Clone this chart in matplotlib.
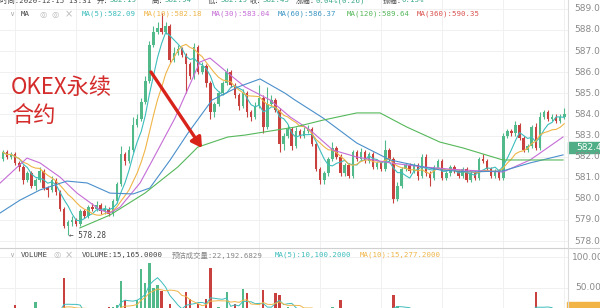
import matplotlib
matplotlib.use('Agg')
import matplotlib.pyplot as plt
import numpy as np
import pandas as pd
from matplotlib.patches import Rectangle, FancyArrowPatch

W, H = 600, 308

# ---------------- data ----------------
first_open = 581.9
close = [582.2, 582.0, 582.1, 581.7, 581.5, 580.9, 581.2, 580.6, 580.9, 581.3,
         580.5, 580.4, 580.9, 580.3, 579.5, 578.7, 578.9, 579.0, 578.8, 579.4,
         579.2, 579.6, 579.5, 579.7, 579.4, 579.5, 579.3, 579.9, 580.7, 582.1,
         581.8, 582.3, 583.5, 583.8, 584.6, 585.6, 587.3, 587.9, 588.1, 587.9,
         588.2, 586.6, 586.9, 587.1, 586.8, 586.4, 585.8, 587.2, 586.0, 586.3,
         585.5, 584.1, 584.5, 585.0, 585.5, 586.0, 585.4, 584.9, 584.4, 585.0,
         584.1, 583.9, 584.4, 584.8, 583.4, 584.5, 584.7, 584.2, 582.6, 583.0,
         583.3, 582.5, 583.2, 583.0, 583.2, 583.3, 582.6, 581.4, 580.9, 581.2,
         581.9, 582.4, 582.0, 581.2, 581.6, 581.1, 582.2, 581.9, 582.2, 581.8,
         582.1, 581.5, 581.7, 581.4, 582.3, 581.9, 580.0, 580.6, 581.4, 581.6,
         581.3, 581.6, 581.1, 582.0, 581.2, 581.0, 581.5, 581.8, 581.0, 581.2,
         581.5, 581.3, 581.1, 581.4, 580.9, 581.2, 581.0, 581.9, 581.8, 581.4,
         581.1, 581.3, 581.0, 583.0, 583.2, 583.1, 583.5, 582.9, 582.3, 582.5,
         583.4, 582.4, 583.9, 584.1, 583.8, 583.9, 583.7, 583.9, 584.0]
high = [582.3, 582.3, 582.2, 582.2, 581.8, 581.6, 581.3, 581.3, 581.0, 581.5,
        581.4, 580.6, 581.1, 581.0, 580.4, 579.6, 579.0, 579.2, 579.1, 579.5,
        579.5, 579.7, 579.8, 579.9, 579.8, 579.7, 579.6, 580.0, 580.8, 582.5,
        582.2, 582.5, 583.9, 584.0, 584.8, 585.8, 587.5, 588.2, 588.4, 588.8,
        588.4, 588.3, 587.2, 587.3, 587.2, 586.9, 586.5, 587.4, 587.3, 586.5,
        586.4, 585.6, 584.6, 585.1, 585.6, 586.2, 586.1, 585.5, 585.0, 585.2,
        585.1, 584.2, 584.6, 585.4, 584.9, 585.3, 584.9, 584.8, 584.3, 583.1,
        583.5, 583.4, 583.4, 583.3, 583.4, 583.5, 583.4, 582.7, 581.5, 581.3,
        582.0, 582.7, 582.5, 582.1, 581.7, 581.7, 582.3, 582.3, 582.4, 582.3,
        582.2, 582.2, 581.8, 581.8, 582.8, 582.4, 582.0, 580.8, 581.5, 581.7,
        581.7, 581.7, 581.7, 582.1, 582.1, 581.3, 581.6, 581.9, 581.9, 581.3,
        581.6, 581.6, 581.4, 581.5, 581.5, 581.3, 581.3, 582.0, 582.1, 581.9,
        581.5, 581.4, 581.4, 583.1, 583.3, 583.3, 583.7, 583.6, 583.0, 582.6,
        583.5, 583.6, 584.1, 584.2, 584.2, 584.0, 584.0, 584.0, 584.3]
low = [581.8, 581.9, 581.9, 581.6, 581.3, 580.7, 580.8, 580.5, 580.4, 580.8,
       580.4, 580.1, 580.3, 580.2, 579.4, 578.6, 578.28, 578.7, 578.7, 578.7,
       579.1, 579.1, 579.4, 579.4, 579.3, 579.3, 579.2, 579.2, 579.8, 580.6,
       581.6, 581.7, 582.2, 583.4, 583.7, 584.5, 585.5, 587.2, 587.8, 587.8,
       587.8, 586.5, 586.5, 586.8, 586.7, 585.0, 585.7, 585.7, 585.9, 585.9,
       585.3, 583.8, 583.9, 584.4, 584.9, 585.4, 585.3, 584.8, 584.2, 584.3,
       583.9, 583.7, 583.8, 584.3, 583.1, 583.3, 584.4, 584.1, 582.2, 582.3,
       582.9, 582.3, 582.4, 582.9, 582.9, 583.1, 582.5, 581.3, 580.7, 580.7,
       581.1, 581.8, 581.9, 581.1, 581.1, 581.0, 581.0, 581.8, 581.8, 581.7,
       581.7, 581.4, 581.4, 581.3, 581.3, 581.8, 579.8, 579.9, 580.5, 581.3,
       581.2, 581.2, 580.9, 581.0, 581.1, 580.6, 580.9, 581.4, 580.9, 580.9,
       581.1, 581.2, 581.0, 581.0, 580.8, 580.8, 580.9, 580.9, 581.7, 581.3,
       581.0, 581.0, 580.9, 580.9, 582.9, 583.0, 583.0, 582.8, 582.2, 582.2,
       582.4, 582.3, 582.3, 583.8, 583.7, 583.7, 583.6, 583.6, 583.8]
volume_k = [9, 12, 10, 23, 11, 14, 9, 12, 27, 13,
            11, 14, 10, 12, 16, 66, 15, 9, 12, 10,
            8, 11, 9, 13, 10, 12, 19, 20, 22, 61,
            30, 14, 17, 30, 80, 58, 90, 50, 55, 45,
            16, 25, 12, 15, 14, 44, 33, 17, 25, 14,
            33, 82, 13, 20, 11, 44, 14, 25, 12, 48,
            42, 12, 10, 14, 47, 13, 11, 42, 38, 12,
            20, 14, 9, 11, 8, 13, 10, 16, 12, 14,
            10, 20, 12, 30, 9, 13, 11, 10, 12, 9,
            11, 8, 10, 12, 14, 13, 39, 21, 12, 10,
            9, 11, 8, 13, 12, 10, 9, 12, 11, 8,
            10, 9, 12, 8, 11, 10, 9, 13, 10, 8,
            9, 11, 10, 15, 12, 13, 10, 14, 12, 9,
            16, 44, 14, 12, 11, 10, 9, 12, 15]

# long moving averages (bar index, price)
ma30_i = [-0.7, 5.9, 9.1, 14.0, 18.2, 23.9, 26.3, 28.8, 33.7, 36.1, 42.3, 48.4, 50.9,
          55.3, 59.5, 65.7, 70.6, 75.5, 81.1, 87.0, 95.2, 103.3, 112.4, 122.9, 129.6, 137.7]
ma30_p = [580.75, 581.93, 581.70, 581.03, 580.27, 579.47, 579.33, 579.61, 580.75, 581.60,
          583.83, 586.48, 586.67, 585.96, 585.30, 584.68, 583.88, 583.26, 582.31, 581.98,
          581.70, 581.51, 581.37, 581.27, 581.84, 582.93]
ma60_i = [-0.7, 4.2, 9.1, 15.7, 20.7, 26.3, 32.0, 36.1, 41.1, 45.5, 51.4, 57.8, 63.2,
          69.3, 71.8, 78.7, 87.0, 95.2, 103.3, 107.4, 114.8, 122.9, 129.6, 137.7]
ma60_p = [579.33, 579.94, 580.42, 580.84, 580.75, 580.27, 580.23, 580.51, 581.84, 583.12,
          584.68, 585.30, 585.68, 585.01, 584.68, 583.83, 582.64, 581.84, 581.51, 581.37,
          581.27, 581.32, 581.70, 582.08]
ma120_i = [18.9, 26.3, 34.9, 43.0, 47.9, 55.3, 59.5, 71.8, 78.7, 87.0, 92.7, 99.3,
           107.4, 113.1, 122.9, 129.6, 137.7]
ma120_p = [578.62, 579.23, 580.27, 581.51, 582.45, 582.93, 583.02, 583.40, 583.73, 584.07,
           584.07, 583.40, 582.69, 582.41, 581.84, 581.84, 581.84]

price_ticks = [578, 579, 580, 581, 582, 583, 584, 585, 586, 587, 588, 589]
vol_ticks = [50, 100]
low_label = 578.28
last_price = 582.45

# ---------------- style ----------------
GREEN = '#52b98a'
RED = '#c8413f'
C_MA5 = '#3dbdbd'
C_MA10 = '#efb548'
C_MA30 = '#c56cd6'
C_MA60 = '#4a8fcb'
C_MA120 = '#55b85a'
C_MA360 = '#d9534f'
GRID = '#f0f0f0'
TXT = '#444444'
AXT = '#8a8a8a'

plt.rcParams['font.family'] = ['DejaVu Sans', 'Noto Sans CJK SC']

fig = plt.figure(figsize=(6, 3.08), dpi=100)
fig.patch.set_facecolor('white')

def fyp(y):
    return 1 - y / H

ax = fig.add_axes([0, fyp(248), 568 / W, 248 / H])
vax = fig.add_axes([0, 0, 568 / W, 60 / H])

n = len(close)
idx = np.arange(n)
opens = np.array([first_open] + close[:-1])
closes = np.array(close)
up = closes >= opens
cols = [GREEN if u else RED for u in up]

xl = (-3 / 4.067, (568 - 3) / 4.067)
for a in (ax, vax):
    a.set_xlim(*xl)
    a.axis('off')
ax.set_ylim(588 - 218 / 21.1, 588 + 30 / 21.1)
vax.set_ylim(100 - 51 / 0.62, 100 + 9 / 0.62)

# grid
for g in range(3, n, 15):
    ax.axvline(g, color=GRID, lw=0.7, zorder=0)
    vax.axvline(g, color=GRID, lw=0.7, zorder=0)
for p in price_ticks:
    ax.axhline(p, color=GRID, lw=0.7, zorder=0)
for v in vol_ticks:
    vax.axhline(v, color=GRID, lw=0.7, zorder=0)

# candles
ax.vlines(idx, low, high, colors=cols, lw=0.8, zorder=3)
body_bottom = np.minimum(opens, closes)
body_h = np.maximum(np.abs(closes - opens), 0.03)
ax.bar(idx, body_h, bottom=body_bottom, width=0.62, color=cols, zorder=4)

# moving averages
s = pd.Series(closes)
ax.plot(idx, s.rolling(5, min_periods=1).mean(), color=C_MA5, lw=0.8, zorder=5)
ax.plot(idx, s.rolling(10, min_periods=1).mean(), color=C_MA10, lw=0.8, zorder=5)
ax.plot(ma30_i, ma30_p, color=C_MA30, lw=0.8, zorder=5)
ax.plot(ma60_i, ma60_p, color=C_MA60, lw=0.8, zorder=5)
ax.plot(ma120_i, ma120_p, color=C_MA120, lw=0.8, zorder=5)

# volume
vax.bar(idx, volume_k, width=0.55, color=cols, zorder=3)
vs = pd.Series(volume_k, dtype=float)
vax.plot(idx, vs.rolling(5, min_periods=1).mean(), color=C_MA5, lw=0.7, zorder=4)
vax.plot(idx, vs.rolling(10, min_periods=1).mean(), color=C_MA10, lw=0.7, zorder=4)

# low label
ax.text(16.3, low_label, '\u2190 %.2f' % low_label, fontsize=5.5, family='DejaVu Sans Mono',
        color=TXT, va='center', ha='left', zorder=6)

# separators
fig.add_artist(plt.Line2D([0, 1], [fyp(248), fyp(248)], color='#d0d0d0', lw=0.8))
fig.add_artist(plt.Line2D([568 / W, 568 / W], [0, 1], color='#dcdcdc', lw=0.8))

# right axis labels
for p in price_ticks:
    y = 30 + (588 - p) * 21.1
    fig.text(574 / W, fyp(y), '%.2f' % p, fontsize=6.5, color=AXT, va='center', ha='left')
for v, x0 in zip(vol_ticks, [575, 572]):
    y = 257 + (100 - v) * 0.62
    fig.text(x0 / W, fyp(y), '%.2fk' % v, fontsize=6.5, color=AXT, va='center', ha='left')

# last price box
yl = 30 + (588 - last_price) * 21.1
fig.add_artist(Rectangle((568 / W, fyp(yl + 5.5)), 32 / W, 11 / H, color='#4fae86',
                         transform=fig.transFigure))
fig.text(576 / W, fyp(yl), '%.2f' % last_price, fontsize=6.5, color='white', va='center', ha='left')
fig.add_artist(Rectangle((567 / W, fyp(308)), 33 / W, 6 / H, color='#f2b445',
                         transform=fig.transFigure))

def t(x, y, s, **kw):
    fig.text(x / W, fyp(y), s, va='center', ha='left', **kw)

MONO = ['DejaVu Sans Mono', 'Noto Sans CJK SC']

# header row (cut off at top)
TEAL = '#3aa88a'
hdr = [(0, '时间:2020-12-15 13:31', TXT), (97, '开:', TXT), (109, '582.19', TEAL),
       (152, '高:', TXT), (164, '582.94', TEAL), (208, '低:', TXT), (220, '582.19', TEAL),
       (250, '收:', TXT), (262, '582.45', TEAL), (296, '涨幅:', TXT), (315, '0.04%(0.26)', TEAL),
       (383, '振幅:', TXT), (402, '0.13%', TEAL)]
for x, s_, c in hdr:
    t(x, 0.5, s_, fontsize=5.3, color=c, family=MONO)

t(9, 14, '\u2228', fontsize=5, color='#aaaaaa')
t(21, 14, 'MA', fontsize=5.3, color=TXT, family=MONO)
t(39, 14, '\u25ce', fontsize=6, color='#bbbbbb')
t(52, 14, '\u25ce', fontsize=6, color='#bbbbbb')
t(65, 14, '\u00d7', fontsize=7, color='#bbbbbb')
leg = [(82, 'MA(5):582.09', C_MA5), (144, 'MA(10):582.18', C_MA10), (212, 'MA(30):583.04', C_MA30),
       (278, 'MA(60):586.37', '#3a95c4'), (347, 'MA(120):589.64', C_MA120), (417, 'MA(360):590.35', C_MA360)]
for x, s_, c in leg:
    t(x, 14, s_, fontsize=5.3, color=c, family=MONO)

t(9, 255, '\u2228', fontsize=5, color='#aaaaaa')
t(21, 255, 'VOLUME', fontsize=5.3, color=TXT, family=MONO)
t(53, 255, '\u25ce', fontsize=6, color='#bbbbbb')
t(65, 255, '\u00d7', fontsize=7, color='#bbbbbb')
vleg = [(82, 'VOLUME:15,165.0000', TXT), (172, '预估成交量:22,192.6829', '#888888'),
        (275, 'MA(5):10,100.2000', C_MA5), (360, 'MA(10):15,277.2000', C_MA10)]
for x, s_, c in vleg:
    t(x, 255, s_, fontsize=5.3, color=c, family=MONO)

# annotation
ANN = '#d42b2b'
t(11, 87, 'OKEX永续', fontsize=16, color=ANN, family=['Noto Sans CJK SC'])
t(11, 115, '合约', fontsize=16, color=ANN, family=['Noto Sans CJK SC'])
arr = FancyArrowPatch((151 / W, fyp(72)), (202 / W, fyp(148)), transform=fig.transFigure,
                      arrowstyle='-|>,head_length=6,head_width=3.5', color='#d8231b', lw=2.4,
                      shrinkA=0, shrinkB=0)
fig.add_artist(arr)

fig.savefig('out.png', dpi=100, facecolor='white')
